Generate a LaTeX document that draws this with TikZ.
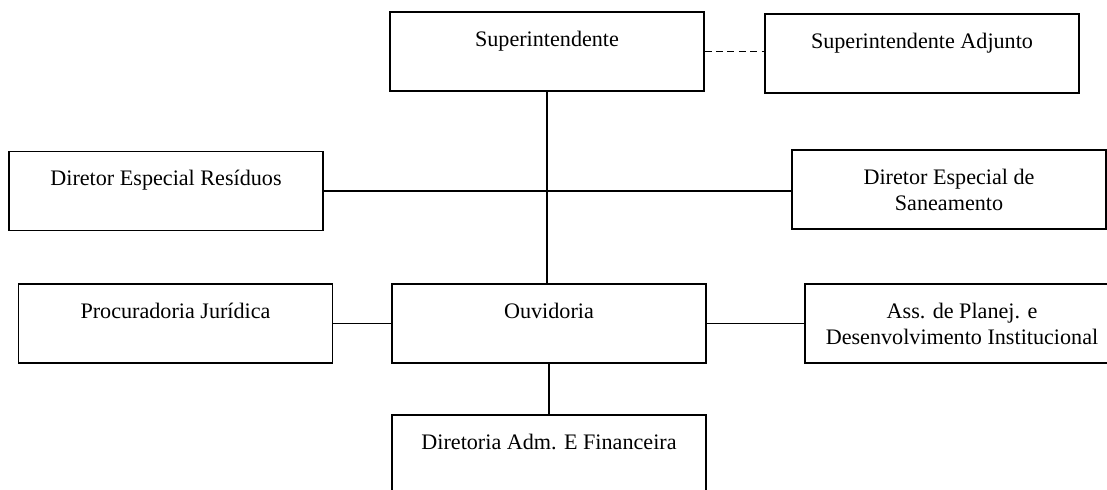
\documentclass[tikz,border=0pt]{standalone}
\usepackage{fontspec}
\setmainfont{Liberation Serif}
\begin{document}
\begin{tikzpicture}[
        orgbox/.style={draw, line width=0.6pt, minimum width=6.28cm, minimum height=1.58cm, inner sep=0pt, align=center, font=\fontsize{12.6}{14.8}\selectfont},
        link/.style={line width=0.7pt}
    ]
        \useasboundingbox (0,0) rectangle (22.14,9.78);
        \clip (0,0) rectangle (22.14,9.78);
        \node[orgbox] (sup) at (10.94,8.75) {Superintendente\\\mbox{}};
        \node[orgbox] (adj) at (18.44,8.71) {Superintendente Adjunto\\\mbox{}};
        \node[orgbox] (res) at (3.32,5.96) {Diretor Especial Resíduos\\\mbox{}};
        \node[orgbox] (san) at (18.98,5.99) {Diretor Especial de\\Saneamento};
        \node[orgbox] (proc) at (3.51,3.31) {Procuradoria Jurídica\\\mbox{}};
        \node[orgbox] (ouv) at (10.98,3.31) {Ouvidoria\\\mbox{}};
        \node[orgbox] (ass) at (19.24,3.31) {Ass. de Planej. e\\Desenvolvimento Institucional};
        \node[orgbox] (dir) at (10.98,0.69) {Diretoria Adm. E Financeira\\\mbox{}};
        \draw[link, dash pattern=on 4pt off 2.5pt] (sup.east) -- (sup.east -| adj.west);
        \draw[link] (sup.south) -- (sup.south |- ouv.north);
        \draw[link] (res.east) -- (res.east -| san.west);
        \draw[link] (proc.east) -- (ouv.west);
        \draw[link] (ouv.east) -- (ass.west);
        \draw[link] (ouv.south) -- (dir.north);
    \end{tikzpicture}
\end{document}
